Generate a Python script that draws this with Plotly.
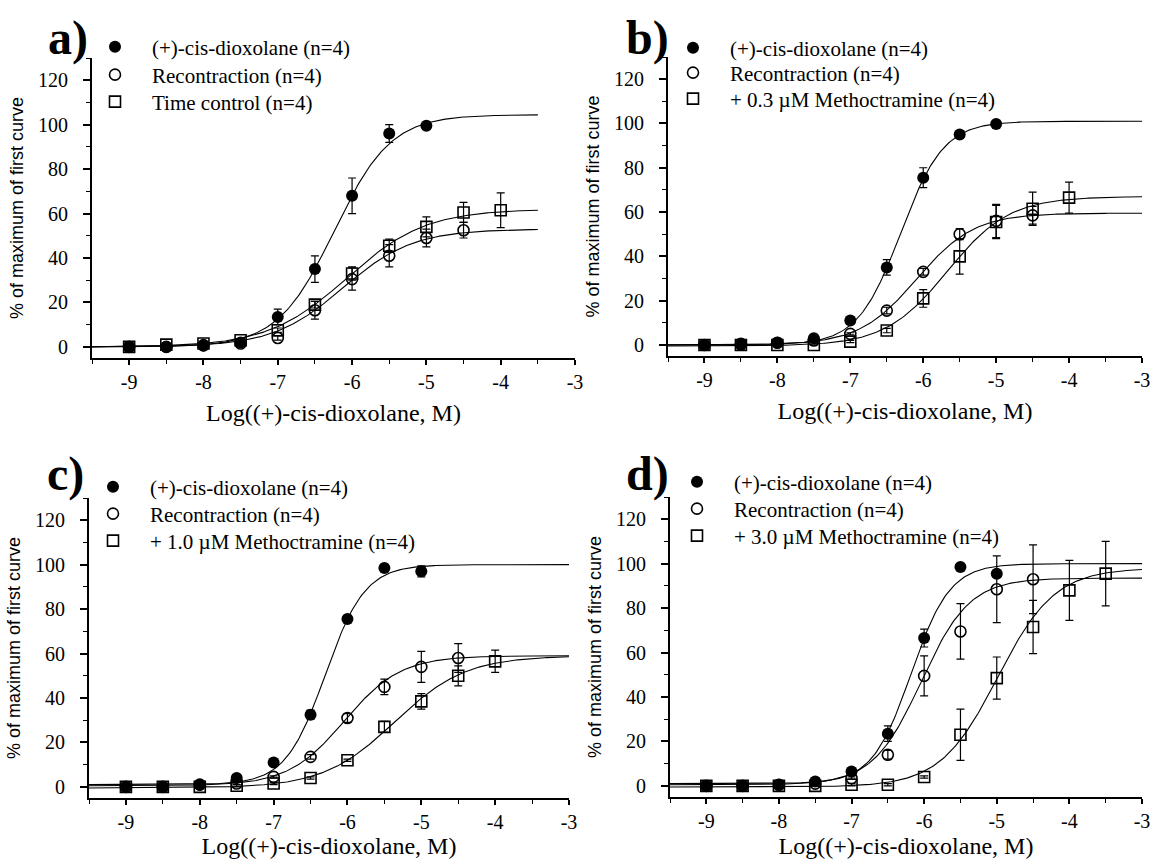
import numpy as np
import plotly.graph_objects as go

W, H = 1155, 859

# ---------------- data ----------------
log_conc = [-9, -8.5, -8, -7.5, -7, -6.5, -6, -5.5, -5, -4.5, -4, -3.5]
x_tick_vals = [-9, -8, -7, -6, -5, -4, -3]
x_tick_text = ["-9", "-8", "-7", "-6", "-5", "-4", "-3"]
y_tick_vals = [0, 20, 40, 60, 80, 100, 120]
y_tick_text = ["0", "20", "40", "60", "80", "100", "120"]
panel_labels = ["a)", "b)", "c)", "d)"]

name_dioxolane = "(+)-cis-dioxolane (n=4)"
name_recontraction = "Recontraction (n=4)"
third_names = ["Time control (n=4)",
               "+ 0.3 \u00b5M Methoctramine (n=4)",
               "+ 1.0 \u00b5M Methoctramine (n=4)",
               "+ 3.0 \u00b5M Methoctramine (n=4)"]

# panel a
a_diox_y = [0, 0, 0.5, 2, 13.5, 35, 68, 96, 99.5]
a_diox_err = [0, 0, 0, 0.5, 3.5, 6, 8, 4, 0.5]
a_recon_y = [0, 0, 0.8, 1.5, 4, 16.5, 30.5, 41, 49, 52.5]
a_recon_err = [0, 0, 0, 0.5, 1, 4, 5, 5, 4, 3.5]
a_third_y = [0, 1, 1.5, 3, 7.5, 19, 33, 45.5, 54, 60.5, 61.5]
a_third_err = [0, 0.5, 0.5, 0.5, 1, 1.5, 3, 3, 4.5, 4.5, 7.8]

# panel b
b_diox_y = [0, 0, 1, 3, 11, 35, 75.5, 95, 99.7]
b_diox_err = [0, 0, 0, 0.5, 1, 3.5, 4.5, 1, 0.5]
b_recon_y = [0, 0.5, 1, 2, 5, 15.5, 33, 50, 56, 58.5]
b_recon_err = [0, 0, 0, 0.5, 0.5, 1.5, 1.5, 2.5, 7.5, 4]
b_third_y = [0, 0, 0, 0, 1.5, 6.5, 21, 40, 55.5, 61.5, 66.5]
b_third_err = [0, 0, 0, 0, 0.5, 1, 4, 8, 7.5, 7.5, 7]

# panel c
c_diox_y = [0, 0, 1, 4, 11, 32.5, 75.5, 98.5, 97]
c_diox_err = [0, 0, 0, 0.5, 1, 2, 1.5, 1, 2.5]
c_recon_y = [0, 0, 1, 1.5, 4.5, 13.5, 31, 45, 54, 58]
c_recon_err = [0, 0, 0, 0.5, 0.5, 1, 2, 3.5, 7, 6.5]
c_third_y = [0, 0, 0, 0.5, 1.5, 4, 12, 27, 38.5, 50, 56.5]
c_third_err = [0, 0, 0, 0.5, 0.5, 0.5, 0.5, 2.5, 3.5, 4.5, 5]

# panel d
d_diox_y = [0, 0, 0.5, 2, 6.5, 23.5, 66.5, 98.5, 95.5]
d_diox_err = [0, 0, 0, 0.5, 1, 3.5, 4, 0.5, 1]
d_recon_y = [0, 0, 0.5, 1, 3.5, 14, 49.5, 69.5, 88.5, 93]
d_recon_err = [0, 0, 0, 0.5, 0.5, 2, 9, 12.5, 15, 15.5]
d_third_y = [0, 0, 0, 0, 0.5, 0.5, 4, 23, 48.5, 71.5, 88, 95.5]
d_third_err = [0, 0, 0, 0, 0.5, 0.5, 0.5, 11.5, 9.5, 12, 13.5, 14.5]

# fitted sigmoid parameters: [bottom, top, logEC50, hill]
a_fits = [[0, 104.5, -6.24, 1.14], [0, 53, -6.125, 0.92], [0, 62, -6.07, 0.82]]
b_fits = [[0, 101, -6.31, 1.47], [0, 59.5, -6.09, 1.1], [-0.5, 67, -5.67, 1.02]]
c_fits = [[1, 100, -6.30, 1.61], [0.5, 59, -6.04, 1.14], [-0.5, 59, -5.36, 0.9]]
d_fits = [[1, 100, -6.18, 1.62], [0.5, 93.5, -6.04, 1.3], [-0.5, 98, -4.99, 1.1]]
curve_ends = [-3.5, -3, -3, -3]

panels = [
    (a_diox_y, a_diox_err, a_recon_y, a_recon_err, a_third_y, a_third_err, a_fits),
    (b_diox_y, b_diox_err, b_recon_y, b_recon_err, b_third_y, b_third_err, b_fits),
    (c_diox_y, c_diox_err, c_recon_y, c_recon_err, c_third_y, c_third_err, c_fits),
    (d_diox_y, d_diox_err, d_recon_y, d_recon_err, d_third_y, d_third_err, d_fits),
]

# ---------------- layout geometry (pixels) ----------------
# plot area boxes: left, right, top, bottom
boxes = [(92, 575, 58, 358), (668, 1142, 57, 356), (89, 569, 498, 798), (670, 1142, 497, 797)]
legend_marker_x = [115, 693, 113, 697]
legend_rows = [(47, 75, 102), (48, 73, 99), (487, 514, 541), (482, 509, 536)]
label_pos = [(68, 38), (647, 38), (65, 474), (647, 474)]

SERIF = "Liberation Serif, Times New Roman, serif"
SANS = "Liberation Sans, Arial, sans-serif"


def px_x(v):
    return v / W


def px_y(v):
    return 1 - v / H


def sigmoid(x, p):
    bottom, top, ec, hill = p
    return bottom + (top - bottom) / (1 + 10 ** ((ec - x) * hill))


fig = go.Figure()
layout = dict(
    width=W, height=H, margin=dict(l=0, r=0, t=0, b=0),
    paper_bgcolor="white", plot_bgcolor="white", showlegend=True,
    font=dict(family=SERIF, color="black"),
)

marker_styles = [
    dict(symbol="circle", size=12, color="black", line=dict(width=0)),
    dict(symbol="circle-open", size=11, color="black", line=dict(width=1.6)),
    dict(symbol="square-open", size=11, color="black", line=dict(width=1.6)),
]

legend_index = 1
annotations = []
for i, (dy, de, ry, re_, ty, te, fits) in enumerate(panels):
    n = "" if i == 0 else str(i + 1)
    xa, ya = "x" + n, "y" + n
    series = [(dy, de, name_dioxolane), (ry, re_, name_recontraction), (ty, te, third_names[i])]

    # fitted curves
    xc = np.linspace(-9.5, curve_ends[i], 300)
    for p in fits:
        fig.add_trace(go.Scatter(x=xc, y=sigmoid(xc, p), mode="lines",
                                 line=dict(color="black", width=1.1),
                                 xaxis=xa, yaxis=ya, showlegend=False, hoverinfo="skip"))
    # error bars (separate so the legend shows only markers)
    for (yv, ev, nm) in series:
        fig.add_trace(go.Scatter(x=log_conc[:len(yv)], y=yv, mode="markers",
                                 marker=dict(size=1, color="rgba(0,0,0,0)"),
                                 error_y=dict(type="data", array=ev, visible=True,
                                              color="black", thickness=1.2, width=4),
                                 xaxis=xa, yaxis=ya, showlegend=False, hoverinfo="skip"))
    # markers
    left, right, top, bottom = boxes[i]
    for k, (yv, ev, nm) in enumerate(series):
        lid = "legend" if legend_index == 1 else "legend%d" % legend_index
        fig.add_trace(go.Scatter(x=log_conc[:len(yv)], y=yv, mode="markers", name=nm,
                                 marker=marker_styles[k], xaxis=xa, yaxis=ya,
                                 legend=lid, showlegend=True))
        layout[lid] = dict(
            x=px_x(legend_marker_x[i] - 37), y=px_y(legend_rows[i][k]),
            xanchor="left", yanchor="middle", bgcolor="rgba(0,0,0,0)", borderwidth=0,
            itemwidth=64, font=dict(family=SERIF, size=21, color="black"),
            itemclick=False, itemdoubleclick=False,
        )
        legend_index += 1

    xdom = [px_x(left), px_x(right)]
    ydom = [px_y(bottom), px_y(top)]
    layout["xaxis" + n] = dict(
        domain=xdom, anchor=ya, range=[-9.5, -3], tickmode="array",
        tickvals=x_tick_vals, ticktext=x_tick_text, ticks="outside", ticklen=5,
        tickwidth=1.5, tickcolor="black", ticklabelstandoff=0, ticklabeloverflow="allow",
        minor=dict(tick0=-9, dtick=0.5, ticks="outside", ticklen=4, tickwidth=1.3, tickcolor="black"),
        showline=True, linecolor="black", linewidth=2, showgrid=False, zeroline=False,
        tickfont=dict(family=SERIF, size=20, color="black"),
        title=dict(text="Log((+)-cis-dioxolane, M)", standoff=12,
                   font=dict(family=SERIF, size=24, color="black")),
        automargin=False,
    )
    layout["yaxis" + n] = dict(
        domain=ydom, anchor=xa, range=[-5, 130], tickmode="array",
        tickvals=y_tick_vals, ticktext=y_tick_text, ticks="outside", ticklen=7,
        tickwidth=1.5, tickcolor="black", ticklabelstandoff=11,
        minor=dict(tick0=0, dtick=10, ticks="outside", ticklen=4, tickwidth=1.3, tickcolor="black"),
        showline=True, linecolor="black", linewidth=2, showgrid=False, zeroline=False,
        tickfont=dict(family=SERIF, size=20, color="black"),
        title=dict(text="% of maximum of first curve", standoff=10,
                   font=dict(family=SANS, size=18, color="black")),
        automargin=False,
    )
    lx, ly = label_pos[i]
    annotations.append(dict(text="<b>%s</b>" % panel_labels[i], x=px_x(lx), y=px_y(ly),
                            xref="paper", yref="paper", xanchor="center", yanchor="middle",
                            showarrow=False, font=dict(family=SERIF, size=48, color="black")))

layout["annotations"] = annotations
fig.update_layout(**layout)
fig.write_html("out.html")
